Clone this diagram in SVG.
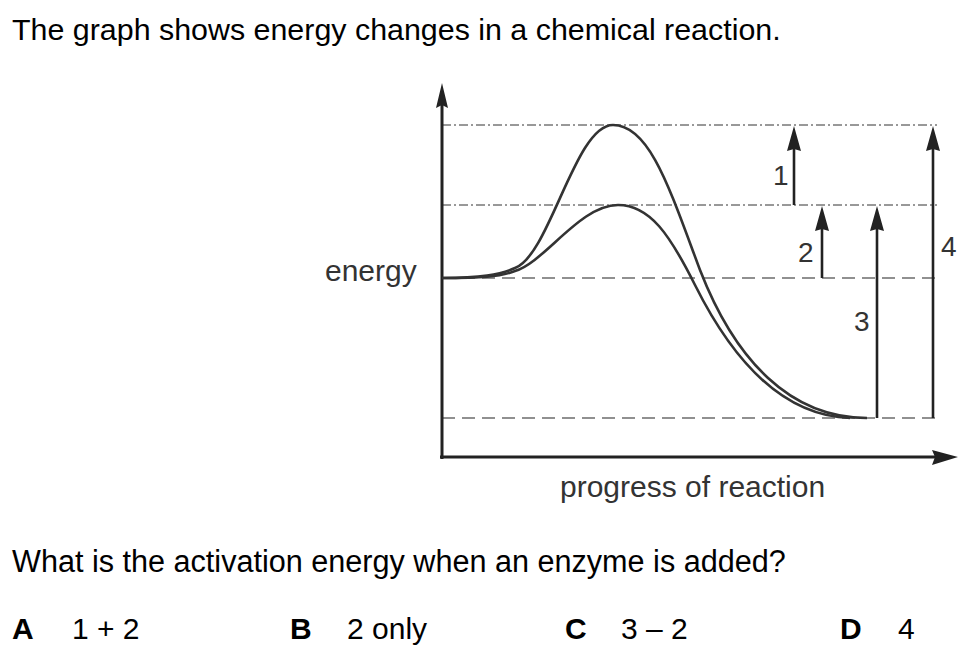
<svg xmlns="http://www.w3.org/2000/svg" width="975" height="656" viewBox="0 0 975 656">
<style>
text{font-family:"Liberation Sans",Arial,sans-serif;fill:#000}
.t{font-size:30.4px}
.q{font-size:30.6px}
.lab{font-size:30px;fill:#333}
.num{font-size:28px;fill:#333}
.opt{font-size:30px}
.b{font-weight:bold}
.ax{stroke:#222;stroke-width:3;fill:none}
.cv{stroke:#333;stroke-width:2.6;fill:none}
.dd{stroke:#333;stroke-width:1;stroke-dasharray:9 3 2 3;fill:none}
.ds{stroke:#222;stroke-width:1.2;stroke-dasharray:13 7;fill:none}
.ar{stroke:#222;stroke-width:2.6;fill:none}
.hd{fill:#222;stroke:none}
</style>
<rect width="975" height="656" fill="#fff"/>
<text class="t" x="12" y="40">The graph shows energy changes in a chemical reaction.</text>

<g id="guides">
<line class="dd" x1="442" y1="125" x2="937" y2="125"/>
<line class="dd" x1="442" y1="205" x2="937" y2="205"/>
<line class="ds" x1="442" y1="278" x2="937" y2="278"/>
<line class="ds" x1="442" y1="418" x2="937" y2="418"/>
</g>

<g id="axes">
<line class="ax" x1="442" y1="104" x2="442" y2="459"/>
<polygon class="hd" points="442,83 448,108 442,105 436,108"/>
<line class="ax" x1="440" y1="457" x2="936" y2="457"/>
<polygon class="hd" points="958,457 932,465 935,457 932,450"/>
</g>

<g id="curves">
<path class="cv" d="M442,278 C480,278 500,275 515,268 C550,255 575,125 613,125 C650,125 670,190 700,270 C735,360 790,418 867,418"/>
<path class="cv" d="M442,278 C480,278 500,277 515,271 C545,262 580,205 618,205 C650,205 670,235 695,285 C730,355 780,416 850,418"/>
</g>

<g id="connectors">
<line class="ar" x1="794" y1="205" x2="794" y2="145"/>
<polygon class="hd" points="794,126 801,151 794,149 787,151"/>
<line class="ar" x1="822" y1="278" x2="822" y2="225"/>
<polygon class="hd" points="822,206 829,231 822,229 815,231"/>
<line class="ar" x1="877" y1="418" x2="877" y2="225"/>
<polygon class="hd" points="877,206 884,231 877,229 870,231"/>
<line class="ar" x1="933" y1="418" x2="933" y2="145"/>
<polygon class="hd" points="933,126 940,151 933,149 926,151"/>
</g>

<g id="labels">
<text class="num" x="773" y="185">1</text>
<text class="num" x="798" y="262">2</text>
<text class="num" x="854" y="331">3</text>
<text class="num" x="941" y="256">4</text>
<text class="lab" x="325" y="281">energy</text>
<text class="lab" x="560" y="497">progress of reaction</text>
</g>

<text class="q" x="12" y="572">What is the activation energy when an enzyme is added?</text>
<g id="options">
<text class="opt b" x="12" y="639">A</text>
<text class="opt" x="72" y="639">1 + 2</text>
<text class="opt b" x="290" y="639">B</text>
<text class="opt" x="347" y="639">2 only</text>
<text class="opt b" x="565" y="639">C</text>
<text class="opt" x="621" y="639">3 – 2</text>
<text class="opt b" x="840" y="639">D</text>
<text class="opt" x="898" y="639">4</text>
</g>
</svg>
